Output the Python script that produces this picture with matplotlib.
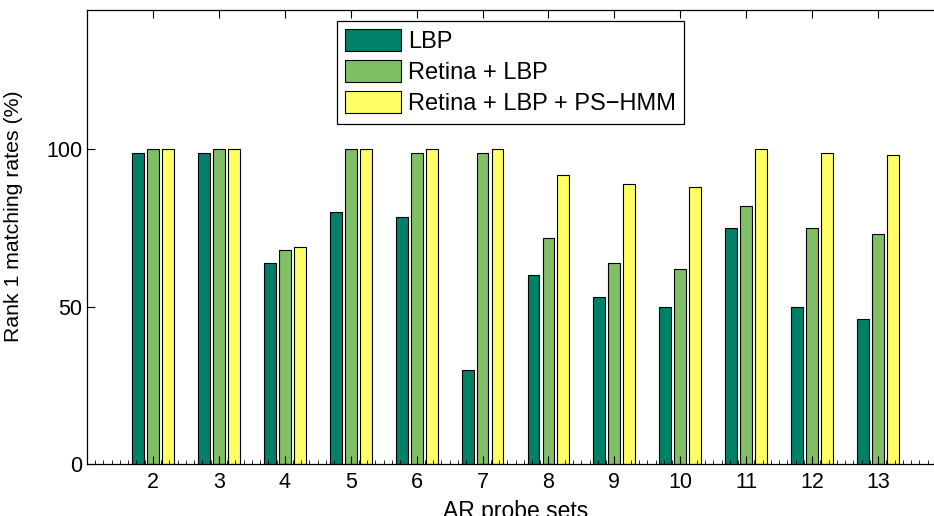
import matplotlib
matplotlib.use("Agg")
import matplotlib.pyplot as plt
import numpy as np
from matplotlib.ticker import MultipleLocator

plt.rcParams['font.family'] = ['Liberation Sans', 'DejaVu Sans']

probe_sets = [2, 3, 4, 5, 6, 7, 8, 9, 10, 11, 12, 13]
lbp = [99, 99, 64, 80, 78.5, 30, 60, 53, 50, 75, 50, 46]
retina_lbp = [100, 100, 68, 100, 99, 99, 72, 64, 62, 82, 75, 73]
retina_lbp_pshmm = [100, 100, 69, 100, 100, 100, 92, 89, 88, 100, 99, 98.2]
series_names = ["LBP", "Retina + LBP", "Retina + LBP + PS\u2212HMM"]
colors = ["#008066", "#80BF66", "#FFFF66"]

W, H = 934, 516
fig = plt.figure(figsize=(W / 100, H / 100), dpi=100)
left, right, top, bottom = 87, 944, 9.5, 464
ax = fig.add_axes([left / W, 1 - bottom / H, (right - left) / W, (bottom - top) / H])

x = np.array(probe_sets, dtype=float)
offsets = [-0.227, 0.0, 0.227]
bw = 0.18
for vals, name, c, off in zip([lbp, retina_lbp, retina_lbp_pshmm], series_names, colors, offsets):
    ax.bar(x + off, vals, width=bw, color=c, edgecolor="black", linewidth=0.8, label=name)

ax.set_xlim(1, 14)
ax.set_ylim(0, 144.5)
ax.set_xticks(probe_sets)
ax.set_yticks([0, 50, 100])
ax.xaxis.set_minor_locator(MultipleLocator(0.125))
ax.tick_params(axis="both", which="major", direction="in", length=6, width=0.8,
               labelsize=15.5, top=True, right=True)
ax.tick_params(axis="x", which="major", pad=6)
ax.tick_params(axis="x", which="minor", direction="in", length=3, width=0.6,
               top=False, bottom=True)
ax.tick_params(axis="y", which="minor", left=False, right=False)
for s in ax.spines.values():
    s.set_linewidth(0.9)

ax.set_xlabel("AR probe sets", fontsize=16.5, labelpad=5)
ax.set_ylabel("Rank 1 matching rates (%)", fontsize=15.3)
ax.yaxis.set_label_coords(-(87 - 23) / (right - left), (bottom - 216) / (bottom - top))

leg = ax.legend(loc="upper left", bbox_to_anchor=((337 - left) / (right - left), (bottom - 21) / (bottom - top)),
                borderaxespad=0, fontsize=17, fancybox=False, framealpha=1,
                edgecolor="black", handlelength=2.35, handleheight=1.05,
                handletextpad=0.3, labelspacing=0.3, borderpad=0.35)
leg.get_frame().set_linewidth(0.9)

fig.savefig("out.png", dpi=100)
